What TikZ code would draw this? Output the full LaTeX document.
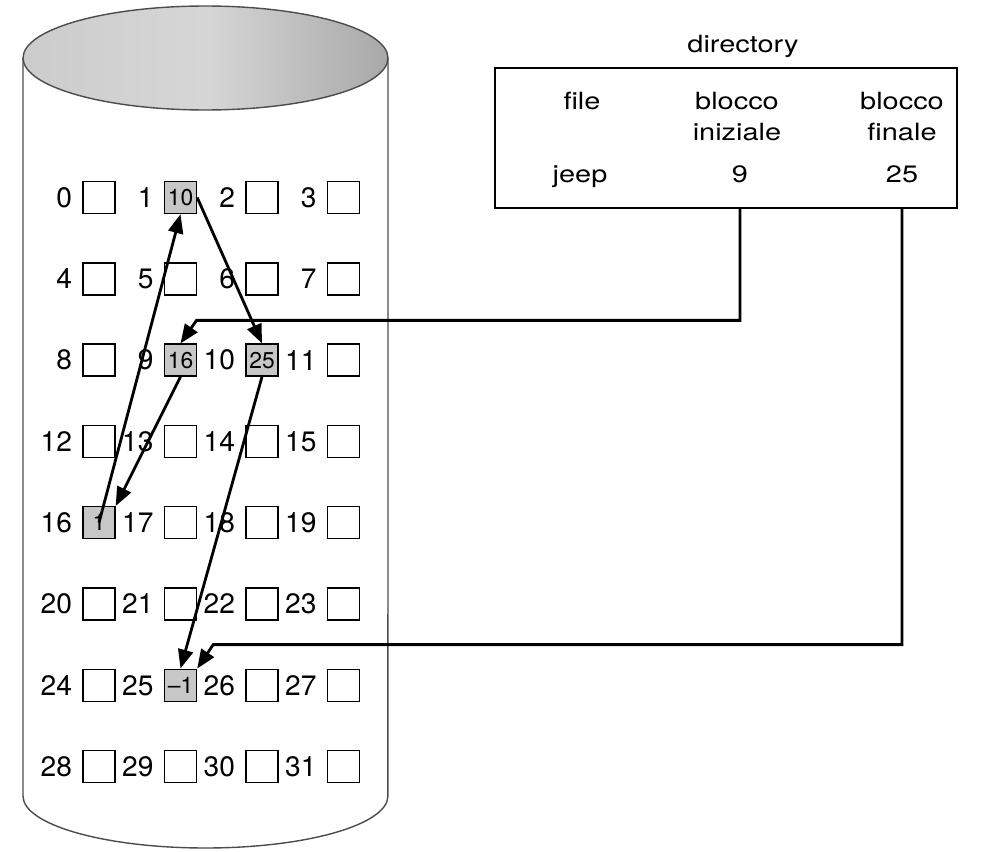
\documentclass[tikz,border=0pt]{standalone}
\usepackage{fontspec}
\setmainfont{TeX Gyre Heros}
\newfontfamily\dirfont[FakeStretch=1.22]{TeX Gyre Heros}
\usetikzlibrary{positioning,arrows.meta,calc}
\tikzset{
  blk/.style={draw, line width=0.8pt, minimum size=0.64cm, inner sep=0pt, fill=white,
    font=\fontsize{13}{13}\selectfont},
  blkused/.style={blk, fill=black!22},
  blknum/.style={font=\fontsize{16}{16}\selectfont, inner sep=0pt, xshift=-0.2cm},
  dirtext/.style={font=\dirfont\fontsize{13.5}{17.5}\selectfont, align=center, inner sep=0pt, anchor=north},
  chain/.style={-{Triangle[length=0.38cm,width=0.3cm]}, line width=1.6pt},
  cylline/.style={draw=black!70, line width=0.8pt},
}

\begin{document}
\begin{tikzpicture}[x=0.02cm, y=-0.02cm]
  \useasboundingbox (0,0) rectangle (989,851);
  \draw[cylline] (23,58) -- (23,796) arc[start angle=180, end angle=360, x radius=3.65cm, y radius=1.04cm] -- (388,58);
  \draw[cylline, left color=black!20, right color=black!34, middle color=black!16] (205.5,58) ellipse[x radius=3.65cm, y radius=1.04cm];
  \foreach \n/\v/\s in {0//blk, 1/10/blkused, 2//blk, 3//blk,
                        4//blk, 5//blk, 6//blk, 7//blk,
                        8//blk, 9/16/blkused, 10/25/blkused, 11//blk,
                        12//blk, 13//blk, 14//blk, 15//blk,
                        16/1/blkused, 17//blk, 18//blk, 19//blk,
                        20//blk, 21//blk, 22//blk, 23//blk,
                        24//blk, 25/\textendash1/blkused, 26//blk, 27//blk,
                        28//blk, 29//blk, 30//blk, 31//blk}
    \node[\s, label={[blknum]left:\n}] (b\n) at ({99+81.5*mod(\n,4)}, {197.5+81.3*int(\n/4)}) {\v};
  \node[draw, line width=1.1pt, minimum width=9.24cm, minimum height=2.8cm] (dir) at (726,138) {};
  \node[dirtext, anchor=base] (dtitle) at (743,53) {directory};
  \node[dirtext] (hfile) at (582,92) {file};
  \node[dirtext] (hini) at (737,92) {blocco\\iniziale};
  \node[dirtext] (hfin) at (902,92) {blocco\\finale};
  \node[dirtext, anchor=base] (vfile) at (580,182) {jeep};
  \node[dirtext, anchor=base] (vini) at (740,182) {9};
  \node[dirtext, anchor=base] (vfin) at (902,182) {25};
  \draw[chain] (b9.south) -- (b16.north east);
  \draw[chain] (b16.center) -- (b1.south);
  \draw[chain] (b1.east) -- (b10.north);
  \draw[chain] (b10.south) -- (b25.north);
  \draw[chain] (vini |- dir.south) |- ($(b9.north)+(16,-23)$) -- (b9.north);
  \draw[chain] (vfin |- dir.south) |- ($(b25.north east)+(16,-24)$) -- (b25.north east);
\end{tikzpicture}
\end{document}
